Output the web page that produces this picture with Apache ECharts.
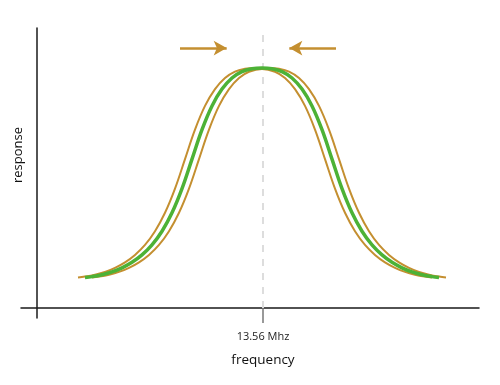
<!DOCTYPE html>
<html>
<head>
<meta charset="utf-8">
<script src="https://cdn.jsdelivr.net/npm/echarts@6/dist/echarts.min.js"></script>
<style>
html,body{margin:0;padding:0;background:#fff;}
#chart{width:500px;height:385px;}
</style>
</head>
<body>
<div id="chart"></div>
<script>
// frequency axis (relative units, centre frequency marked)
var centerFreq = 13.56;
var centerLabel = '13.56 Mhz';
var xLabel = 'frequency';
var yLabel = 'response';

// outer (wide) response curve: [frequency, response]
var wideCurve = [
  [2.46,0.1271],[2.88,0.1308],[3.48,0.1388],[4.08,0.1504],[4.68,0.1675],[5.28,0.1904],
  [5.88,0.2213],[6.48,0.2629],[7.08,0.32],[7.68,0.3967],[8.28,0.4975],[8.88,0.6204],
  [9.48,0.7433],[10.08,0.8421],[10.68,0.9121],[11.28,0.9583],[11.88,0.9846],[12.48,0.9967],
  [12.90,0.999],[13.50,1.0],[14.10,0.999],
  [14.52,0.9967],[15.12,0.9846],[15.72,0.9583],[16.32,0.9121],[16.92,0.8421],[17.52,0.7433],
  [18.12,0.6204],[18.72,0.4975],[19.32,0.3967],[19.92,0.32],[20.52,0.2629],[21.12,0.2213],
  [21.72,0.1904],[22.32,0.1675],[22.92,0.1504],[23.52,0.1388],[24.12,0.1308],[24.54,0.1271]
];
// tuned (green) response curve
var tunedCurve = [
  [2.88,0.1271],[3.30,0.1308],[3.90,0.1388],[4.50,0.1504],[5.10,0.1675],[5.70,0.1904],
  [6.30,0.2213],[6.90,0.2629],[7.50,0.32],[8.10,0.3967],[8.70,0.4975],[9.30,0.6204],
  [9.90,0.7433],[10.50,0.8421],[11.10,0.9121],[11.70,0.9583],[12.30,0.9846],[12.90,0.9967],
  [13.50,1.0],
  [14.10,0.9967],[14.70,0.9846],[15.30,0.9583],[15.90,0.9121],[16.50,0.8421],[17.10,0.7433],
  [17.70,0.6204],[18.30,0.4975],[18.90,0.3967],[19.50,0.32],[20.10,0.2629],[20.70,0.2213],
  [21.30,0.1904],[21.90,0.1675],[22.50,0.1504],[23.10,0.1388],[23.70,0.1308],[24.12,0.1271]
];
// narrow response curve
var narrowCurve = [
  [3.30,0.1271],[3.72,0.1308],[4.32,0.1388],[4.92,0.1504],[5.52,0.1675],[6.12,0.1904],
  [6.72,0.2213],[7.32,0.2629],[7.92,0.32],[8.52,0.3967],[9.12,0.4975],[9.72,0.6204],
  [10.32,0.7433],[10.92,0.8421],[11.52,0.9121],[12.12,0.9583],[12.72,0.9846],
  [13.50,0.996],
  [14.28,0.9846],[14.88,0.9583],[15.48,0.9121],[16.08,0.8421],[16.68,0.7433],[17.28,0.6204],
  [17.88,0.4975],[18.48,0.3967],[19.08,0.32],[19.68,0.2629],[20.28,0.2213],[20.88,0.1904],
  [21.48,0.1675],[22.08,0.1504],[22.68,0.1388],[23.28,0.1308],[23.70,0.1271]
];
// arrows pointing toward the centre frequency
var leftArrow = [[8.58,1.083],[11.38,1.083]];
var rightArrow = [[17.94,1.083],[15.14,1.083]];
var dashTop = 1.151;

var orange = '#c48f30';
var green = '#4cb236';

var chart = echarts.init(document.getElementById('chart'), null, {renderer:'canvas'});
chart.setOption({
  animation:false,
  backgroundColor:'#ffffff',
  grid:{left:21,right:21,top:28,bottom:67,containLabel:false,outerBoundsMode:'none'},
  xAxis:{
    type:'value', min:-0.96, max:26.52,
    axisLine:{onZero:true, lineStyle:{color:'#1a1a1a',width:1.5}},
    axisTick:{show:true, customValues:[centerFreq], length:15, lineStyle:{color:'#777',width:1.5}},
    axisLabel:{show:true, customValues:[centerFreq], formatter:function(){return centerLabel;}, margin:13,
      color:'#222', fontFamily:'Open Sans', fontSize:11},
    splitLine:{show:false},
    name:xLabel, nameLocation:'middle', nameGap:35,
    nameTextStyle:{color:'#111', fontFamily:'Open Sans', fontSize:13.5, padding:[0,0,0,26]}
  },
  yAxis:{
    type:'value', min:-0.04167, max:1.1667,
    axisLine:{onZero:true, lineStyle:{color:'#1a1a1a',width:1.5}},
    axisTick:{show:false}, axisLabel:{show:false}, splitLine:{show:false},
    name:yLabel, nameLocation:'middle', nameGap:-4, nameRotate:90,
    nameTextStyle:{color:'#111', fontFamily:'Open Sans', fontSize:13, padding:[0,0,0,36]}
  },
  series:[
    {type:'line', data:wideCurve, smooth:0.4, showSymbol:false, silent:true,
     lineStyle:{color:orange,width:2}, z:2},
    {type:'line', data:narrowCurve, smooth:0.4, showSymbol:false, silent:true,
     lineStyle:{color:orange,width:2}, z:2},
    {type:'line', data:tunedCurve, smooth:0.4, showSymbol:false, silent:true,
     lineStyle:{color:green,width:3.5}, z:3,
     markLine:{silent:true, symbol:['none','none'], label:{show:false},
       lineStyle:{color:'#dddddd', width:2, type:[7,7]},
       data:[[{coord:[centerFreq,0]},{coord:[centerFreq,dashTop]}]], z:1}
    },
    {type:'line', data:[], silent:true,
     markLine:{silent:true, symbol:['none','arrow'], symbolSize:[11,13], label:{show:false},
       lineStyle:{color:orange, width:2.5, type:'solid'},
       data:[[{coord:leftArrow[0]},{coord:leftArrow[1]}],[{coord:rightArrow[0]},{coord:rightArrow[1]}]]}
    }
  ]
});
</script>
</body>
</html>
